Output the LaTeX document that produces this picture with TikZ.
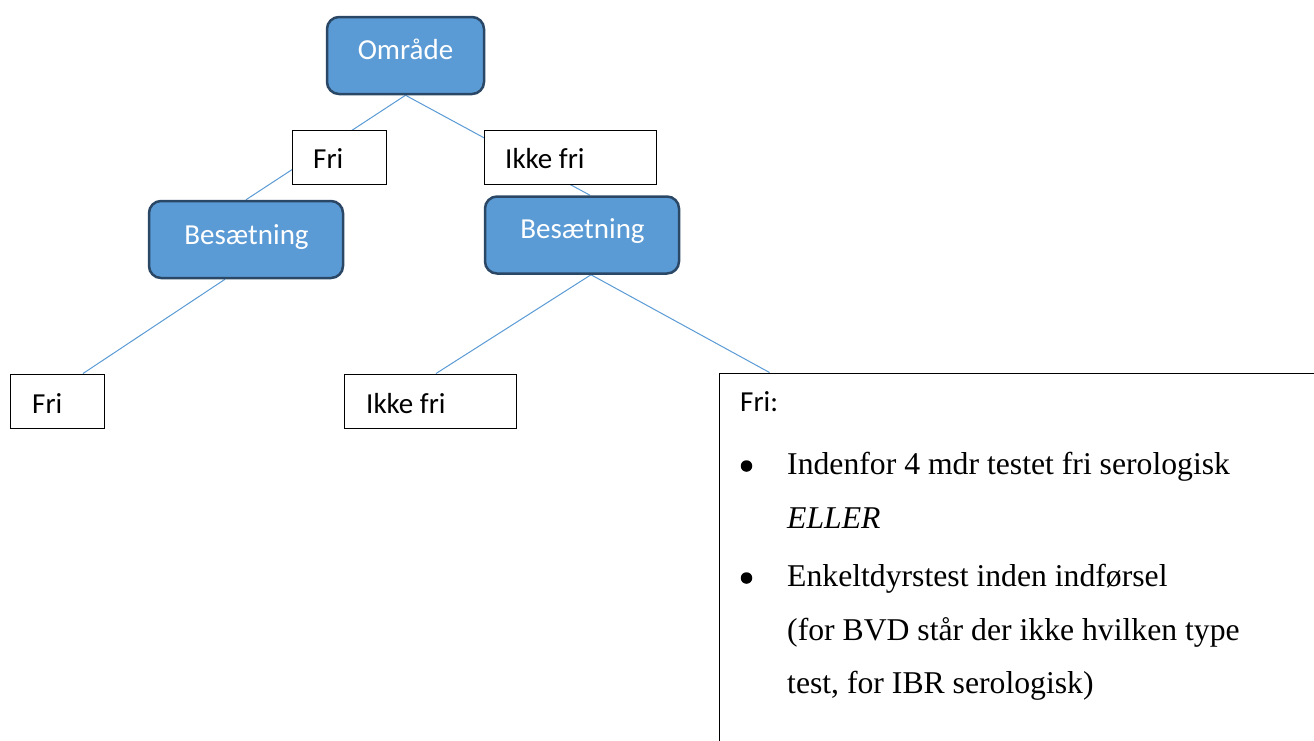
\documentclass[tikz,border=0pt]{standalone}
\usepackage{fontspec}
\usetikzlibrary{calc,backgrounds}
\newfontfamily\calfont{Carlito}
\newfontfamily\tmsfont{Liberation Serif}
\definecolor{boxblue}{HTML}{5B9BD5}
\definecolor{boxedge}{HTML}{2A4766}
\definecolor{linkblue}{HTML}{5B9BD5}
\tikzset{
  rbox/.style={draw=boxedge, fill=boxblue, line width=2.5pt, rounded corners=12pt,
    minimum width=#1, minimum height=77pt, inner sep=0pt},
  wbox/.style={draw=black, fill=white, line width=1pt,
    minimum width=#1, minimum height=54pt, inner sep=0pt},
  caltext/.style={inner sep=0pt, font=\calfont\fontsize{29}{35}\selectfont},
  wtext/.style={caltext, text=white, anchor=base},
  btext/.style={caltext, text=black, anchor=base west},
  ttext/.style={inner sep=0pt, anchor=base west, font=\tmsfont\fontsize{31.7}{38}\selectfont},
  bulletdot/.style={circle, fill=black, minimum size=11.5pt, inner sep=0pt},
  link/.style={draw=linkblue, line width=1pt},
}
\begin{document}
\begin{tikzpicture}[x=1pt,y=-1pt]
\useasboundingbox (0,0) rectangle (1314,740);

% shapes
\node[rbox=157pt] (omr) at (405.5,55.5) {};
\node[wbox=94pt] (fri1) at (339,157) {};
\node[wbox=172pt] (ikke1) at (570,157) {};
\node[rbox=194pt] (bes1) at (246,239.5) {};
\node[rbox=194pt] (bes2) at (582,235) {};
\node[wbox=94pt] (fri2) at (57,401) {};
\node[wbox=172pt] (ikke2) at (430,401) {};
\node[draw=black, fill=white, line width=1pt, minimum width=620pt, minimum height=400pt,
  inner sep=0pt, anchor=north west] (big) at (718.5,372.5) {};

% connectors
\begin{scope}[on background layer]
\fill[white] (0,0) rectangle (1314,740);
\draw[link] (omr.south) -- (bes1.north);
\draw[link] (omr.south) -- ($(bes2.north)+(8,0)$);
\draw[link] ($(bes1.south)+(-21,0)$) -- ($(fri2.north)+(26,0)$);
\draw[link] ($(bes2.south)+(9,0)$) -- ($(ikke2.north)+(6,0)$);
\draw[link] ($(bes2.south)+(9,0)$) -- ($(big.north west)+(51,0)$);
\end{scope}

% labels
\node[wtext] (omrT) at (405.5,59) {Område};
\node[wtext] (bes1T) at (246.5,244) {Besætning};
\node[wtext] (bes2T) at (582.5,238) {Besætning};
\node[btext] (fri1T) at (313,168) {Fri};
\node[btext] (ikke1T) at (505,168) {Ikke fri};
\node[btext] (fri2T) at (32,413) {Fri};
\node[btext] (ikke2T) at (366,413) {Ikke fri};

\node[btext] (bigT) at (740,411) {Fri:};
\node[bulletdot] (b1) at (746.5,466) {};
\node[ttext] (l1) at (787,474) {Indenfor 4 mdr testet fri serologisk};
\node[ttext] (l2) at (787,528) {\itshape ELLER};
\node[bulletdot] (b2) at (746.5,578) {};
\node[ttext] (l3) at (787,586) {Enkeltdyrstest inden indførsel};
\node[ttext] (l4) at (787,640) {(for BVD står der ikke hvilken type};
\node[ttext] (l5) at (787,693) {test, for IBR serologisk)};
\end{tikzpicture}
\end{document}
